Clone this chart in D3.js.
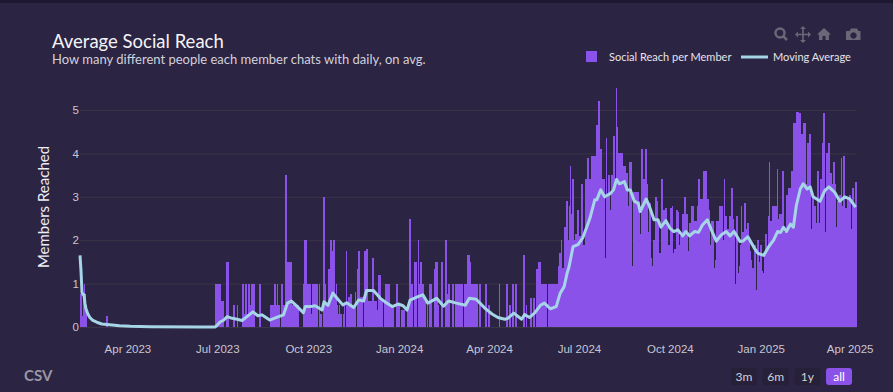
<!DOCTYPE html>
<html>
<head>
    <meta charset="utf-8">
    <title>Average Social Reach</title>
    <script src="https://d3js.org/d3.v7.min.js"></script>
    <style>
        html, body { margin: 0; padding: 0; background: #1d1930; }
        svg { display: block; font-family: "Lato", "Open Sans", sans-serif; }
        .tick text { fill: #c9c6d3; font-size: 11.5px; }
        .domain { display: none; }
    </style>
</head>
<body>
    <div id="chart"></div>

    <script>
        // daily values, one row = 10 days (extra value on a few rows)
        const reachEarly = [
            .75,.75,.25,.75,1,.75,.5,0,0,0,
            0,0,0,0,0,0,0,0,0,0,
            0,0,0,0,0,0,.25,.25,0,0,
            0,0,0,0,0,0,0,0,0,0,
            0,0,0,0,0,0,0,0,0,0,
            0,0,0,0,0,0,0,0,0,0,
            0,0,0,0,0,0,0,0,0,0,
            0,0,0,0,0,0,0,0,0,0,
            0,0,0,0,0,0,0,0,0,0,
            0,0,0,0,0,0,0,0,0,0,
            0,0,0,0,0,0,0,0,0,0,
            0,0,0,0,0,0,0,0,0,0,
            0,0,0,0,0,0,0,0,0,0,
            0,0,0,0,0,0,0
        ];
        const reachMiddle = [
            1,1,0,1,1,.5,.6,.6,0,0,
            0,1.5,1.5,.5,0,0,0,0,.5,.5,
            0,0,.5,0,0,0,0,1,1,.3,
            1,1,.3,1,1,.5,1,1,1,1,
            0,0,0,0,1,1,0,0,0,0,
            0,0,0,0,0,.5,.5,.5,.5,1,
            1,.5,1,.5,.5,0,1,1,.5,.5,
            3.5,3.5,1,1.5,1.5,1,1.5,.5,.5,.5,.5,
            .5,.5,.5,0,0,0,0,0,1,2,
            2,1,1,0,1,0,.3,1,1,1,
            1,1,1,0,1,.3,.3,0,3,3,
            1,.5,.5,1.33,1.33,2,2,1.75,2,2,
            .7,1,.5,.3,.5,.3,.3,0,.3,.5,
            0,1.75,.5,.7,.7,.75,.75,.5,.5,.5,
            .8,0,1.33,1.75,1.75,.7,.7,.7,0,1.75,
            1.75,1.8,1.8,.6,.6,.6,.6,.6,1.6,.6,.6,
            .6,.4,0,1.2,1.2,.6,.6,0,0,.6,
            1,1,1,1,.5,.5,.5,.5,.5,0,
            0,1,1,.5,.5,0,.4,.4,.4,.4,
            0,0,.5,.5,2.5,2.5,1,1,0,1.5,
            1.5,1.5,0,2,1,1.5,1.5,1,1,.6,
            .6,0,.5,0,1,1,1,0,0,1.33,
            1.5,1.5,1.5,.5,0,0,1.5,1.5,0,0,
            2,2,.75,1,1,0,0,1,1,0,0,
            1,1,0,1,1,1,1,0,0,1,
            1,0,1.67,1.67,1.5,.3,1,1,0,1,
            1,1,1,0,1,1,0,0,0,0,
            1,1,0,.5,.5,0,0,0,0,0,
            0,0,0,0,1,0,0,0,0,0,0,
            1,1,0,.5,.5,0,1,1,0,1,
            1,0,0,0,0,0,0,1.67,1.67,0,
            .5,0,0,0,.67,.67,0,.67,.67,0,
            0,1.33,1.33,1.5,1.5,1,1,1,1,1
        ];
        const reachLate = [
            1,0,0,1,1,1,1,1,.5,1,
            1,1,1,1.4,1.7,1.7,2,1.35,1.35,2.3,
            2.3,2.9,2.9,2,2.8,3.7,2.6,3.4,3.4,2,
            2.15,2.15,2.7,2.7,2.1,2.1,3.3,3.3,1.9,1.9,
            3.4,3.4,3.9,3.9,3.4,3.4,3.95,3.95,3.95,3.95,
            3.95,4.65,4.65,5.2,5.2,4.1,4.1,3.4,3.4,3.4,
            1.6,4.35,3,3.5,3.5,2.7,3.5,3.5,4.4,4.4,
            3.35,5.5,4.6,2.3,4,4,4,4,3.7,3.7,3.7,
            1.2,3.55,2.8,2.8,3.8,3.8,1.4,1.4,3.1,3.1,
            2.55,3.1,3.1,2.9,2.15,2.15,4.1,4.1,3.4,3.4,
            4.1,4.1,3.3,2.2,2.85,2.85,1.6,1.4,2,2,
            3,3,2.9,2.5,1.7,1.7,3.4,3.4,2.7,2.7,
            2.75,2.75,2.3,1.9,1.9,2.75,2.75,2.8,1.7,1.8,
            1.8,2.7,2.7,2.65,1.9,2.1,2.1,2.6,2.6,3,
            3,2.6,2.6,1.75,2.4,2.4,2.8,2.8,2.8,2.45,
            2.45,2.45,2.8,3.4,3.4,2.45,2.95,2.95,1.75,3.6,3.6,
            3.6,2.95,2.95,2.7,1.9,1.1,2.45,2.45,1.3,1.35,
            1.55,2.45,2.45,2,2.8,2.8,2.8,2,2,3.4,
            2.55,2.55,2.25,2.25,2.55,2.55,3.2,3.2,2.5,2.25,
            1,2.55,2.55,1.25,1.4,1.9,2.8,2.2,2.2,2.85,
            2.85,2.25,2.4,2.4,2,1.75,1.55,1.35,1.35,1.9,
            1.9,.85,2,2,1.5,1.9,1.9,1.3,1.25,1.65,
            2.15,2.15,1.8,2.55,3.8,2.45,2.45,2.8,2.8,2.8,
            2.8,2.8,3.65,2.5,2.6,2.6,2.6,3.6,3.6,1.75,
            2.2,2.2,3.05,3.05,3.2,3.2,1.9,3.6,3.6,4.7,4.7,
            4.7,4.95,4.95,4.93,4.93,4.45,4.45,3.6,4.7,4.7,
            2.45,3.3,4.25,4.25,4.45,4.45,2.25,3.05,3.05,2.8,
            2.8,2.4,3.6,3.6,2.4,3.4,3.4,4.25,4.93,4.93,
            2.2,4,4,4.25,4.25,3.55,3.55,3.3,3.8,3.8,
            3.3,2.3,2.9,2.9,3.05,3.05,3.9,2.8,3.95,3.95,
            2.75,2.75,2.95,2.95,3.05,3.05,2.25,3.2,3.2,2.8,
            3.35,3.35
        ];

        const maDays = [
            0,1,2,3,4,5,6,8,10,13,17,22,30,40,51,71,121,137,
            142,145,149,154,159,164,169,175,180,184,192,199,206,210,214,220,226,228,
            233,238,245,247,251,256,261,266,270,277,282,287,290,297,304,310,316,322,
            327,331,334,342,347,352,361,368,373,381,390,394,401,410,417,423,430,433,
            439,447,450,455,460,466,470,476,482,486,490,493,495,499,504,509,516,521,
            523,527,531,537,540,543,546,551,554,557,561,565,567,573,576,581,585,588,
            593,597,601,605,610,613,617,622,626,630,635,639,644,649,654,658,662,668,
            671,676,683,686,692,697,702,706,709,712,715,719,722,725,729,732,736,739,
            742,749,754,758,764,769,774,779,785
        ];
        const maValues = [
            1.65,1.3,.8,.75,.75,.55,.42,.3,.22,.15,.11,.07,.05,.03,.015,.005,0,0,
            .12,.15,.24,.2,.18,.15,.24,.35,.26,.28,.16,.22,.28,.55,.6,.47,.33,.47,
            .47,.49,.39,.58,.5,.78,.64,.51,.56,.45,.62,.6,.84,.84,.66,.56,.47,.53,
            .49,.39,.62,.7,.74,.55,.66,.48,.6,.55,.5,.66,.64,.43,.3,.22,.18,.2,
            .32,.18,.29,.22,.32,.5,.55,.42,.47,.78,.93,1.24,1.39,1.85,1.9,2.06,2.5,2.93,
            2.93,3.16,3,3.08,3.16,3.4,3.3,3.35,3.16,3.16,2.9,2.85,2.66,2.95,2.8,2.47,2.47,2.3,
            2.45,2.28,2.2,2.24,2.1,2.2,2.1,2.2,2.18,2.35,2.47,2.24,1.98,2.12,2.2,2.1,2.2,1.97,
            1.98,2.08,1.8,1.7,1.65,1.85,2,2.2,2.18,2.3,2.2,2.37,2.3,2.8,3.18,3.3,3.18,3.23,
            3,2.9,3.15,3.23,3.1,2.9,3,2.95,2.76
        ];

        const firstDay = new Date(2023, 1, 12);
        const xTickDates = ["2023-04-01","2023-07-01","2023-10-01","2024-01-01","2024-04-01","2024-07-01","2024-10-01","2025-01-01","2025-04-01"];
        const yTickValues = [0, 1, 2, 3, 4, 5];
        const rangeButtons = ["3m", "6m", "1y", "all"];
        const legendNames = ["Social Reach per Member", "Moving Average"];

        const reachValues = reachEarly.concat(reachMiddle, reachLate);
        const dayAt = i => d3.timeDay.offset(firstDay, i);
        const parseDay = d3.timeParse("%Y-%m-%d");

        const width = 893, height = 392;
        const barColor = "#8b52ea", lineColor = "#a6d5e8", gridColor = "#3b3546";

        const svg = d3.select("#chart").append("svg")
            .attr("width", width)
            .attr("height", height);

        // card behind the chart
        svg.append("rect")
            .attr("x", -12).attr("y", 3)
            .attr("width", width + 24).attr("height", height + 20)
            .attr("rx", 12)
            .attr("fill", "#2b2442");

        const x = d3.scaleTime()
            .domain([firstDay, dayAt(reachValues.length)])
            .range([80, 856.6]);
        const y = d3.scaleLinear()
            .domain([0, 5.75])
            .range([327, 77.5]);

        // grid and y axis
        svg.append("g")
            .attr("transform", "translate(80,0)")
            .call(d3.axisLeft(y).tickValues(yTickValues).tickFormat(d3.format("d")).tickSize(-776.6).tickPadding(1))
            .call(g => g.selectAll(".tick line").attr("stroke", gridColor).attr("stroke-width", 1));

        svg.append("g")
            .attr("transform", "translate(0,327)")
            .call(d3.axisBottom(x)
                .tickValues(xTickDates.map(parseDay))
                .tickFormat(d3.timeFormat("%b %Y"))
                .tickSize(0)
                .tickPadding(18));

        // bars, snapped to whole pixels so the run of daily bars stays solid
        svg.append("g")
            .attr("shape-rendering", "crispEdges")
            .selectAll("rect")
            .data(reachValues)
            .join("rect")
            .attr("x", (d, i) => x(dayAt(i)))
            .attr("y", d => y(d))
            .attr("width", (d, i) => x(dayAt(i + 1)) - x(dayAt(i)) + 0.3)
            .attr("height", d => y(0) - y(d))
            .attr("fill", barColor);

        // moving average
        const line = d3.line()
            .x((d, i) => x(dayAt(maDays[i])))
            .y(d => y(d));

        svg.append("path")
            .datum(maValues)
            .attr("d", line)
            .attr("fill", "none")
            .attr("stroke", lineColor)
            .attr("stroke-width", 3)
            .attr("stroke-linejoin", "round");

        // title
        svg.append("text").attr("x", 52).attr("y", 48)
            .attr("fill", "#f4f3f7").attr("font-size", 18.5)
            .text("Average Social Reach");
        svg.append("text").attr("x", 52).attr("y", 64)
            .attr("fill", "#d3d0dc").attr("font-size", 13)
            .text("How many different people each member chats with daily, on avg.");

        svg.append("text")
            .attr("transform", "translate(49,207) rotate(-90)")
            .attr("text-anchor", "middle")
            .attr("fill", "#eeedf2").attr("font-size", 15)
            .text("Members Reached");

        // legend
        svg.append("rect").attr("x", 586).attr("y", 51).attr("width", 11).attr("height", 11).attr("fill", barColor);
        svg.append("text").attr("x", 609).attr("y", 61).attr("fill", "#e6e4ec").attr("font-size", 11).text(legendNames[0]);
        svg.append("line").attr("x1", 741).attr("x2", 768).attr("y1", 57).attr("y2", 57)
            .attr("stroke", lineColor).attr("stroke-width", 3);
        svg.append("text").attr("x", 773).attr("y", 61).attr("fill", "#e6e4ec").attr("font-size", 11).text(legendNames[1]);

        // modebar icons
        const icon = svg.append("g").attr("fill", "#6b6678").attr("stroke", "#6b6678");
        icon.append("circle").attr("cx", 780).attr("cy", 33).attr("r", 4.5).attr("fill", "none").attr("stroke-width", 2.5);
        icon.append("line").attr("x1", 783).attr("y1", 36).attr("x2", 787).attr("y2", 40).attr("stroke-width", 2.5);
        icon.append("path").attr("stroke-width", 1.6).attr("fill", "none")
            .attr("d", "M803,28V41M797,34.5H810");
        icon.append("path").attr("stroke", "none")
            .attr("d", "M803,26l3,3h-6zM803,43l3,-3h-6zM795,34.5l3,-3v6zM811,34.5l-3,-3v6z");
        icon.append("path").attr("stroke", "none")
            .attr("d", "M824,28l7,6.5h-2v5.5h-3.5v-4h-3v4h-3.5v-5.5h-2z");
        icon.append("path").attr("stroke", "none").attr("fill-rule", "evenodd")
            .attr("d", "M846,31h3.5l1.5,-2.500h6l1.500,2.500h2v9h-14.500zM853.500,32.300a3.200,3.200 0 1,0 0.010,0z");

        // CSV link
        svg.append("text").attr("x", 24).attr("y", 381)
            .attr("fill", "#9a96a5").attr("font-size", 15).attr("font-weight", 700)
            .text("CSV");

        // range buttons
        const buttonX = d3.scaleBand().domain(rangeButtons).range([731, 852]).paddingInner(0.18);
        const buttons = svg.append("g").selectAll("g")
            .data(rangeButtons)
            .join("g")
            .attr("transform", d => `translate(${buttonX(d)},368)`);
        buttons.append("rect")
            .attr("width", buttonX.bandwidth())
            .attr("height", 17)
            .attr("rx", 3)
            .attr("fill", d => d === "all" ? barColor : "#272039");
        buttons.append("text")
            .attr("x", buttonX.bandwidth() / 2)
            .attr("y", 12.5)
            .attr("text-anchor", "middle")
            .attr("font-size", 12)
            .attr("fill", d => d === "all" ? "#ffffff" : "#d3d0dc")
            .text(d => d);
    </script>
</body>
</html>
